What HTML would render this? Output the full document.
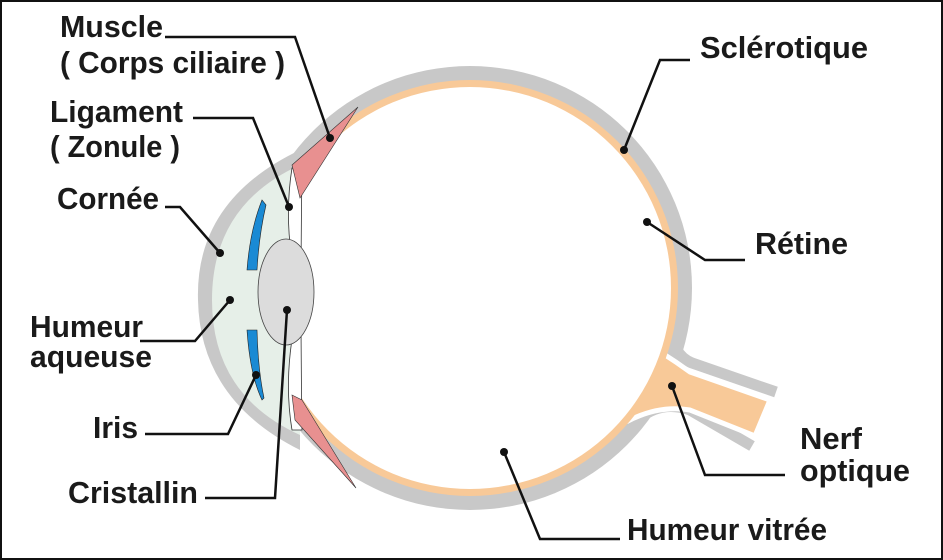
<!DOCTYPE html>
<html><head><meta charset="utf-8"><style>
html,body{margin:0;padding:0;background:#fff}
svg{display:block}
text{font-family:"Liberation Sans Narrow","Liberation Sans",sans-serif;font-weight:bold;fill:#1a1a1a}
</style></head><body>
<svg width="943" height="560" viewBox="0 0 943 560" xmlns="http://www.w3.org/2000/svg" font-size="31">
<rect x="1" y="1" width="941" height="558" fill="#fff" stroke="#111" stroke-width="2"/>
<path d="M670,325 Q672,355 692,363 L776,392" fill="none" stroke="#c8c8c8" stroke-width="11"/>
<path d="M640,418 Q662,400 690,410 L752,446" fill="none" stroke="#c8c8c8" stroke-width="11"/>
<circle cx="470" cy="288" r="222" fill="#c8c8c8"/>
<path d="M630,335 Q660,350 690,372 L770,400 L755,436 L690,410 Q660,405 630,420 Z" fill="#f8c998" stroke="#fff" stroke-width="5"/>
<circle cx="470" cy="288" r="208" fill="#f8c998"/>
<circle cx="470" cy="288" r="201" fill="#fff"/>
<path d="M300,150 Q195,200 198,300 Q200,400 300,450 L300,150 Z" fill="#c8c8c8"/>
<path d="M300,165 Q212,205 212,300 Q212,395 300,435 Z" fill="#e6efe8"/>
<path d="M292,168 Q282,230 300,300 Q282,370 292,430 L302,430 Q300,300 302,168 Z" fill="#fff" stroke="#333" stroke-width="0.8"/>
<path d="M262,200 Q250,230 247,270 L257,270 Q259,235 266,205 Z" fill="#1a8ad4" stroke="#222" stroke-width="0.6"/>
<path d="M247,330 L257,330 Q258,370 264,398 L262,400 Q250,375 247,330 Z" fill="#1a8ad4" stroke="#222" stroke-width="0.6"/>
<ellipse cx="286" cy="292" rx="28" ry="53" fill="#dcdcdc" stroke="#444" stroke-width="0.8"/>
<path d="M292,165 L358,107 L300,198 Z" fill="#e89090" stroke="#333" stroke-width="0.6"/>
<path d="M292,395 L302,400 L356,488 L295,420 Z" fill="#e89090" stroke="#333" stroke-width="0.6"/>
<g fill="none" stroke="#111" stroke-width="2.5">
<polyline points="165,37 295,37 330,138"/>
<polyline points="193,118 253,118 289,207"/>
<polyline points="165,207 180,207 220,253"/>
<polyline points="140,341 195,341 230,300"/>
<polyline points="145,434 228,434 256,375"/>
<polyline points="205,498 275,498 287,310"/>
<polyline points="690,60 660,60 624,150"/>
<polyline points="745,260 705,260 647,222"/>
<polyline points="785,475 705,475 672,386"/>
<polyline points="620,539 540,539 504,452"/>
</g>
<g fill="#111">
<circle cx="330" cy="138" r="4"/><circle cx="289" cy="207" r="4"/><circle cx="220" cy="253" r="4"/>
<circle cx="230" cy="300" r="4"/><circle cx="256" cy="375" r="4"/><circle cx="287" cy="310" r="4"/>
<circle cx="624" cy="150" r="4"/><circle cx="647" cy="222" r="4"/><circle cx="672" cy="386" r="4"/>
<circle cx="504" cy="452" r="4"/>
</g>
<text x="60" y="37" textLength="103" lengthAdjust="spacingAndGlyphs">Muscle</text>
<text x="60" y="73" textLength="225" lengthAdjust="spacingAndGlyphs">( Corps ciliaire )</text>
<text x="50" y="122" textLength="133" lengthAdjust="spacingAndGlyphs">Ligament</text>
<text x="50" y="157" textLength="130" lengthAdjust="spacingAndGlyphs">( Zonule )</text>
<text x="57" y="209" textLength="102" lengthAdjust="spacingAndGlyphs">Cornée</text>
<text x="30" y="337" textLength="113" lengthAdjust="spacingAndGlyphs">Humeur</text>
<text x="30" y="367" textLength="122" lengthAdjust="spacingAndGlyphs">aqueuse</text>
<text x="93" y="438" textLength="45" lengthAdjust="spacingAndGlyphs">Iris</text>
<text x="68" y="503" textLength="130" lengthAdjust="spacingAndGlyphs">Cristallin</text>
<text x="700" y="58" textLength="168" lengthAdjust="spacingAndGlyphs">Sclérotique</text>
<text x="755" y="254" textLength="93" lengthAdjust="spacingAndGlyphs">Rétine</text>
<text x="800" y="449" textLength="62" lengthAdjust="spacingAndGlyphs">Nerf</text>
<text x="800" y="481" textLength="110" lengthAdjust="spacingAndGlyphs">optique</text>
<text x="627" y="540" textLength="200" lengthAdjust="spacingAndGlyphs">Humeur vitrée</text>
</svg>
</body></html>
